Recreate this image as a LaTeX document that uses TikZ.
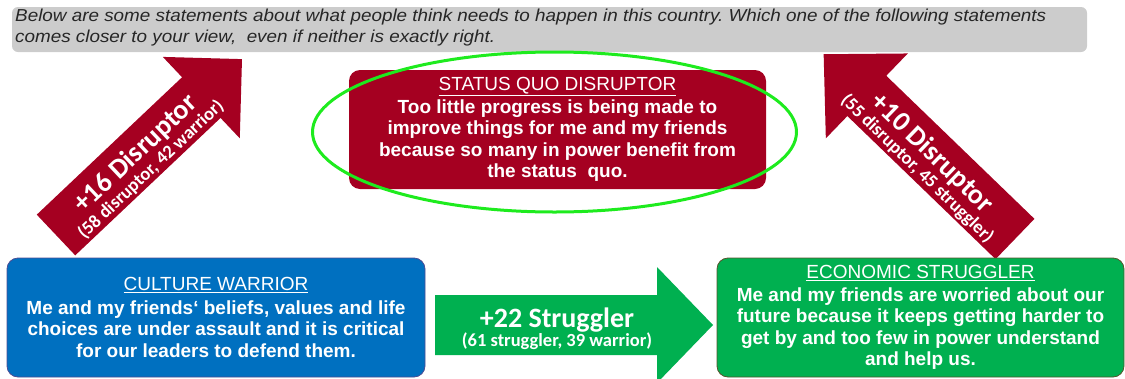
\documentclass[tikz,border=0pt]{standalone}
\usepackage{fontspec}
\setmainfont{Liberation Sans}
\newfontfamily\calibri{Carlito}
\newfontfamily\headfont[FakeStretch=1.09]{Liberation Sans}
\usetikzlibrary{shapes.geometric}
\definecolor{headgray}{RGB}{204,204,204}
\definecolor{disred}{RGB}{165,0,33}
\definecolor{warblue}{RGB}{0,112,192}
\definecolor{strgreen}{RGB}{0,176,80}
\definecolor{ringgreen}{RGB}{30,235,30}
\tikzstyle{typebox} = [rounded corners=11pt, align=center, text=white, inner sep=0pt,
	minimum height=119pt, font=\bfseries\fontsize{19}{21.5}\selectfont]
\tikzstyle{arrowtext} = [text=white, align=center, inner sep=0pt, font=\calibri\bfseries]
\newcommand{\bigtxt}{\fontsize{28}{30}\selectfont}
\newcommand{\smalltxt}{\fontsize{18.5}{30}\selectfont}
\frenchspacing

\begin{document}
\begin{tikzpicture}[x=1pt,y=-1pt]
	\useasboundingbox (0,0) rectangle (1125,378);
	
	% arrows between the types
	\coordinate (wdtail) at (56,235);
	\begin{scope}[shift={(wdtail)}, rotate=43.4]
		\fill[disred] (0,-28) -- (200,-28) -- (200,-56) -- (256,0) -- (200,56) -- (200,28) -- (0,28) -- cycle;
		\node[arrowtext, rotate=43.4] (wdlabel) at (114,5) {\bigtxt +16 Disruptor\\ \smalltxt (58 disruptor, 42 warrior)};
	\end{scope}
	\coordinate (sdtail) at (1015,239);
	\begin{scope}[shift={(sdtail)}, rotate=136]
		\fill[disred] (0,-28) -- (206,-28) -- (206,-59) -- (266,0) -- (206,59) -- (206,28) -- (0,28) -- cycle;
		\node[arrowtext, rotate=-44] (sdlabel) at (119,-5) {\bigtxt +10 Disruptor\\ \smalltxt (55 disruptor, 45 struggler)};
	\end{scope}
	\coordinate (wstail) at (435,325);
	\begin{scope}[shift={(wstail)}]
		\fill[strgreen] (0,-30) -- (222,-30) -- (222,-58) -- (278,0) -- (222,58) -- (222,30) -- (0,30) -- cycle;
		\node[arrowtext] (wslabel) at (122,3.5) {\bigtxt +22 Struggler\\ \smalltxt (61 struggler, 39 warrior)};
	\end{scope}
	
	% question
	\node[fill=headgray, rounded corners=6pt, minimum width=1075pt, minimum height=45pt, inner sep=0pt] (question) at (549.5,29.5) {};
	\node[anchor=north west, align=left, inner sep=0pt, text=black!85,
		font=\headfont\itshape\fontsize{17.3}{21}\selectfont] (qtext) at (15,9)
		{Below are some statements about what people think needs to happen in this country. Which one of the following statements\\
		comes closer to your view,\ \ even if neither is exactly right.};
	
	% the three types
	\node[typebox, fill=disred, minimum width=417pt] (disruptor) at (557.5,129.5)
		{{\mdseries\underline{STATUS QUO DISRUPTOR}}\\[1pt]
		Too little progress is being made to\\
		improve things for me and my friends\\
		because so many in power benefit from\\
		the status\ \ quo.};
	\node[typebox, fill=warblue, draw=black!60!blue!70, line width=0.8pt, minimum width=418pt] (warrior) at (216,317.5)
		{{\mdseries\underline{CULTURE WARRIOR}}\\[2pt]
		Me and my friends‘ beliefs, values and life\\
		choices are under assault and it is critical\\
		for our leaders to defend them.};
	\node[typebox, fill=strgreen, draw=black!50!olive, line width=0.8pt, minimum width=407pt] (struggler) at (920.5,317.5)
		{{\mdseries\underline{ECONOMIC STRUGGLER}}\\[1pt]
		Me and my friends are worried about our\\
		future because it keeps getting harder to\\
		get by and too few in power understand\\
		and help us.};
	
	\node[ellipse, draw=ringgreen, line width=3pt, minimum width=484pt, minimum height=160pt, inner sep=0pt] (ring) at (554.5,132) {};
\end{tikzpicture}
\end{document}
